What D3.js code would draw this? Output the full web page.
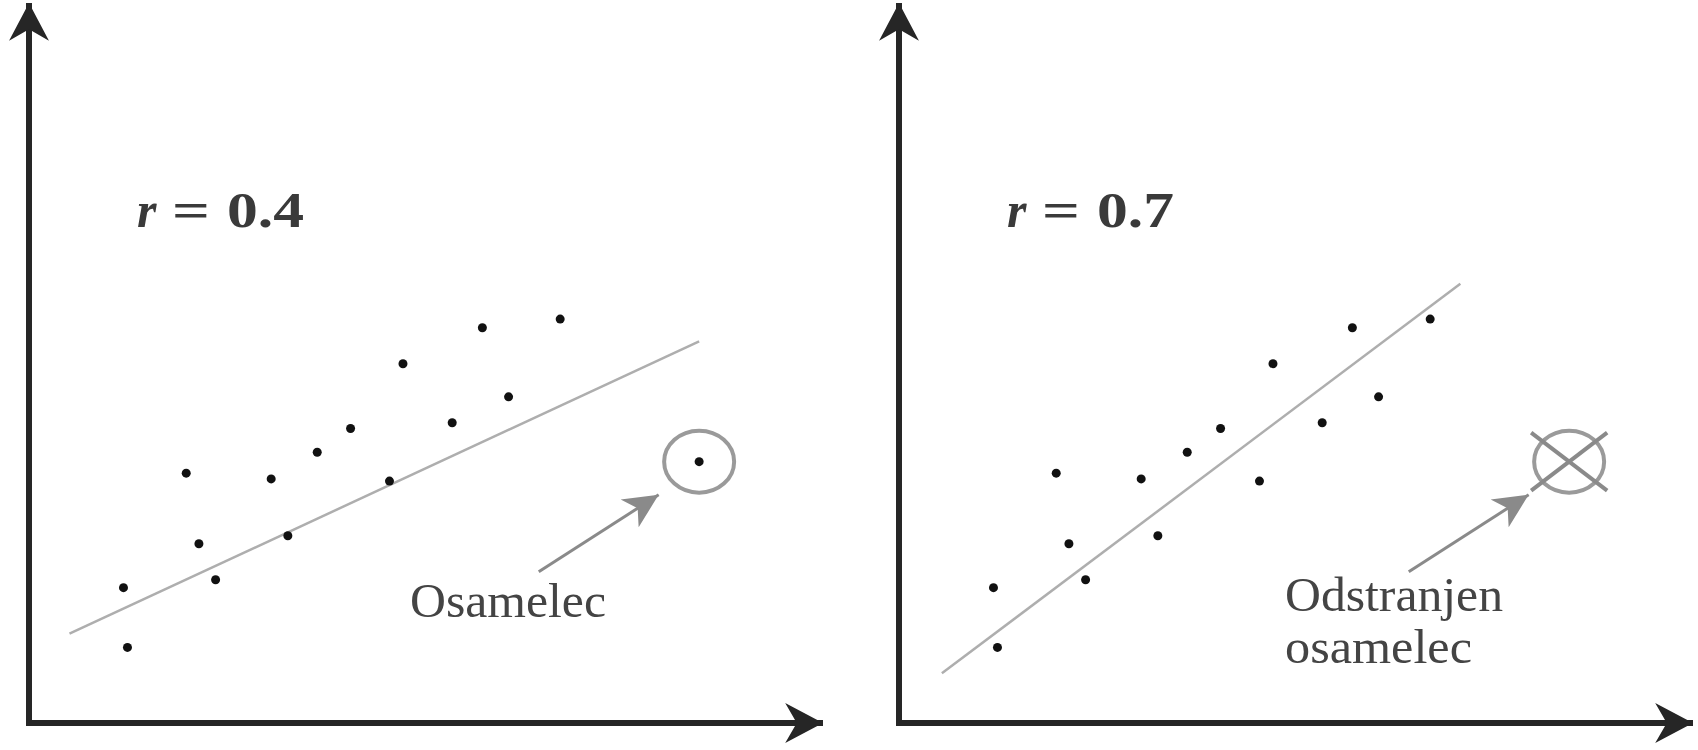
<!DOCTYPE html>
<html>
<head>
<meta charset="utf-8">
<script src="https://cdn.jsdelivr.net/npm/d3@7"></script>
<style>
  html, body { margin: 0; padding: 0; background: #fff; }
  svg { display: block; }
</style>
</head>
<body>
<div class="canvas"></div>
<script>
// Points (same sample in both panels)
const pointsX = [1.19, 1.24, 1.98, 2.14, 2.35, 3.05, 3.26, 3.63, 4.05, 4.54, 4.71, 5.33, 5.71, 6.04, 6.69];
const pointsY = [1.88, 1.05, 3.47, 2.49, 1.99, 3.39, 2.60, 3.76, 4.09, 3.36, 4.99, 4.17, 5.49, 4.53, 5.61];

// the outlier
const outlierX = 8.44;
const outlierY = 3.63;

// regression lines: [x0, y0, x1, y1] per panel
const fitLeft = [0.51, 1.24, 8.44, 5.30];
const fitRight = [0.54, 0.69, 7.07, 6.10];

// arrow pointing at the outlier
const pointerArrow = [6.42, 2.10, 7.93, 3.17];

const panelLabels = ["0.4", "0.7"];
const panelNotes = [["Osamelec"], ["Odstranjen", "osamelec"]];

const width = 1698, height = 750;

const svg = d3.select(".canvas")
    .append("svg")
    .attr("width", width)
    .attr("height", height);

const defs = svg.append("defs");

// black axis arrowhead (notched)
defs.append("marker")
    .attr("id", "axis-head")
    .attr("viewBox", "0 0 40 40")
    .attr("refX", 38)
    .attr("refY", 20)
    .attr("markerWidth", 42)
    .attr("markerHeight", 42)
    .attr("markerUnits", "userSpaceOnUse")
    .attr("orient", "auto")
    .append("path")
    .attr("d", "M38,20 L2,1 L13,20 L2,39 Z")
    .attr("fill", "#262626");

// grey pointer arrowhead
defs.append("marker")
    .attr("id", "grey-head")
    .attr("viewBox", "0 0 32 32")
    .attr("refX", 30)
    .attr("refY", 16)
    .attr("markerWidth", 38)
    .attr("markerHeight", 38)
    .attr("markerUnits", "userSpaceOnUse")
    .attr("orient", "auto")
    .append("path")
    .attr("d", "M30,16 L1,2 L9,16 L1,30 Z")
    .attr("fill", "#8a8a8a");

const panelOffsets = [0, 870];

panelOffsets.forEach((off, i) => {
    const x = d3.scaleLinear().domain([0, 10]).range([29 + off, 823 + off]);
    const y = d3.scaleLinear().domain([0, 10]).range([723, 3]);

    const g = svg.append("g");

    // axes
    g.append("line")
        .attr("x1", x(0)).attr("y1", y(0))
        .attr("x2", x(0)).attr("y2", y(10))
        .attr("stroke", "#262626")
        .attr("stroke-width", 6)
        .attr("marker-end", "url(#axis-head)");
    g.append("line")
        .attr("x1", x(0) - 3).attr("y1", y(0))
        .attr("x2", x(10)).attr("y2", y(0))
        .attr("stroke", "#262626")
        .attr("stroke-width", 6)
        .attr("marker-end", "url(#axis-head)");

    // regression line
    const fit = i === 0 ? fitLeft : fitRight;
    g.append("line")
        .attr("x1", x(fit[0])).attr("y1", y(fit[1]))
        .attr("x2", x(fit[2])).attr("y2", y(fit[3]))
        .attr("stroke", "#aeaeae")
        .attr("stroke-width", 2.5);

    // points
    g.selectAll("circle.pt")
        .data(d3.range(pointsX.length))
        .enter().append("circle")
        .attr("class", "pt")
        .attr("cx", d => x(pointsX[d]))
        .attr("cy", d => y(pointsY[d]))
        .attr("r", 4.5)
        .attr("fill", "#111");

    // outlier ring
    g.append("ellipse")
        .attr("cx", x(outlierX))
        .attr("cy", y(outlierY))
        .attr("rx", 35)
        .attr("ry", 31)
        .attr("fill", "none")
        .attr("stroke", "#9a9a9a")
        .attr("stroke-width", 4);

    if (i === 0) {
        g.append("circle")
            .attr("cx", x(outlierX))
            .attr("cy", y(outlierY))
            .attr("r", 4.5)
            .attr("fill", "#111");
    } else {
        // crossed out
        const cx = x(outlierX), cy = y(outlierY);
        [[-38, -29, 38, 29], [38, -29, -38, 29]].forEach(c => {
            g.append("line")
                .attr("x1", cx + c[0]).attr("y1", cy + c[1])
                .attr("x2", cx + c[2]).attr("y2", cy + c[3])
                .attr("stroke", "#8a8a8a")
                .attr("stroke-width", 4);
        });
    }

    // pointer arrow
    g.append("line")
        .attr("x1", x(pointerArrow[0])).attr("y1", y(pointerArrow[1]))
        .attr("x2", x(pointerArrow[2])).attr("y2", y(pointerArrow[3]))
        .attr("stroke", "#8a8a8a")
        .attr("stroke-width", 3)
        .attr("marker-end", "url(#grey-head)");

    // r = ...
    const rt = g.append("text")
        .attr("y", 227)
        .attr("font-family", "'Liberation Serif', serif")
        .attr("font-size", 50)
        .attr("fill", "#3a3a3a");
    rt.append("tspan")
        .attr("x", 137 + off)
        .attr("font-style", "italic")
        .attr("font-weight", "bold")
        .text("r");
    rt.append("tspan")
        .attr("x", 172 + off)
        .attr("font-weight", "bold")
        .attr("textLength", 38)
        .attr("lengthAdjust", "spacingAndGlyphs")
        .text("=");
    rt.append("tspan")
        .attr("x", 227 + off)
        .attr("font-weight", "bold")
        .attr("textLength", 77)
        .attr("lengthAdjust", "spacingAndGlyphs")
        .text(panelLabels[i]);

    // note under the arrow
    const notes = panelNotes[i];
    const noteX = i === 0 ? 410 : 415;
    const noteY = i === 0 ? 617 : 611;
    const noteW = i === 0 ? [196] : [218, 187];
    notes.forEach((t, k) => {
        g.append("text")
            .attr("x", noteX + off)
            .attr("y", noteY + k * 52)
            .attr("font-family", "'Liberation Serif', serif")
            .attr("font-size", 48)
            .attr("fill", "#444")
            .attr("textLength", noteW[k])
            .attr("lengthAdjust", "spacingAndGlyphs")
            .text(t);
    });
});
</script>
</body>
</html>
